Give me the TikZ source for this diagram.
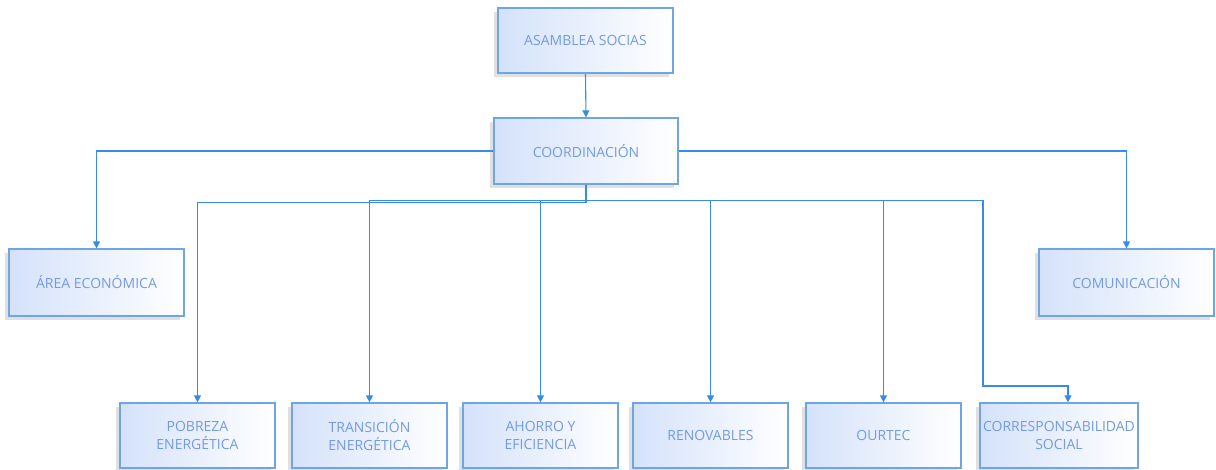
\documentclass[tikz,border=0pt]{standalone}
\usepackage{fontspec}
\setmainfont{Open Sans}
\usetikzlibrary{shadows,arrows.meta,calc}
\definecolor{boxline}{RGB}{110,165,230}
\definecolor{boxfill}{RGB}{212,226,250}
\definecolor{txt}{RGB}{115,155,228}
\definecolor{conn}{RGB}{55,140,235}
\begin{document}
\begin{tikzpicture}[x=1pt,y=-1pt,
  box/.style={draw=boxline, line width=1.2pt, left color=boxfill, right color=white,
    inner sep=0pt, align=center, text=txt,
    font=\fontsize{14}{18}\selectfont,
    drop shadow={shadow xshift=-4pt, shadow yshift=-4pt, opacity=0.2, fill=black!60}},
  top/.style={box, minimum width=175pt, minimum height=65pt},
  mid/.style={box, minimum width=175pt, minimum height=67pt},
  bot/.style={box, minimum width=155pt, minimum height=65pt},
  wire/.style={draw=conn, line width=1.1pt},
  arr/.style={wire, -{Triangle[length=7pt,width=7pt]}}
]
\useasboundingbox (0,0) rectangle (1216,470);
\node[top] (asam) at (585.5,40.5) {ASAMBLEA SOCIAS};
\node[box, minimum width=184pt, minimum height=66pt] (coord) at (586,151) {COORDINACIÓN};
\node[mid] (area) at (96.5,282.5) {ÁREA ECONÓMICA};
\node[mid] (comu) at (1126.5,282.5) {COMUNICACIÓN};
\node[bot] (pob) at (197.5,435.5) {POBREZA\\ENERGÉTICA};
\node[bot] (tra) at (369.5,435.5) {TRANSICIÓN\\ENERGÉTICA};
\node[bot] (aho) at (540.5,435.5) {AHORRO Y\\EFICIENCIA};
\node[bot] (ren) at (710.5,435.5) {RENOVABLES};
\node[bot] (our) at (883.5,435.5) {OURTEC};
\node[box, minimum width=158pt, minimum height=65pt] (cor) at (1059,435.5) {CORRESPONSABILIDAD\\SOCIAL};

\draw[arr] (asam.south) -- (coord.north);
\draw[arr] (coord.west) -| (area.north);
\draw[arr] (coord.east) -| (comu.north);
\draw[arr] (coord.south) -- ++(0,18) -| (pob.north);
\draw[arr] (coord.south) -- ++(0,16) -| (tra.north);
\draw[arr] (coord.south) -- ++(0,16) -| (aho.north);
\draw[arr] (coord.south) -- ++(0,16) -| (ren.north);
\draw[arr] (coord.south) -- ++(0,16) -| (our.north);
\coordinate (cbend) at (983,386);
\draw[arr] (coord.south) -- ++(0,16) -| (cbend) -| ($(cor.north)+(9,0)$);
\end{tikzpicture}
\end{document}
